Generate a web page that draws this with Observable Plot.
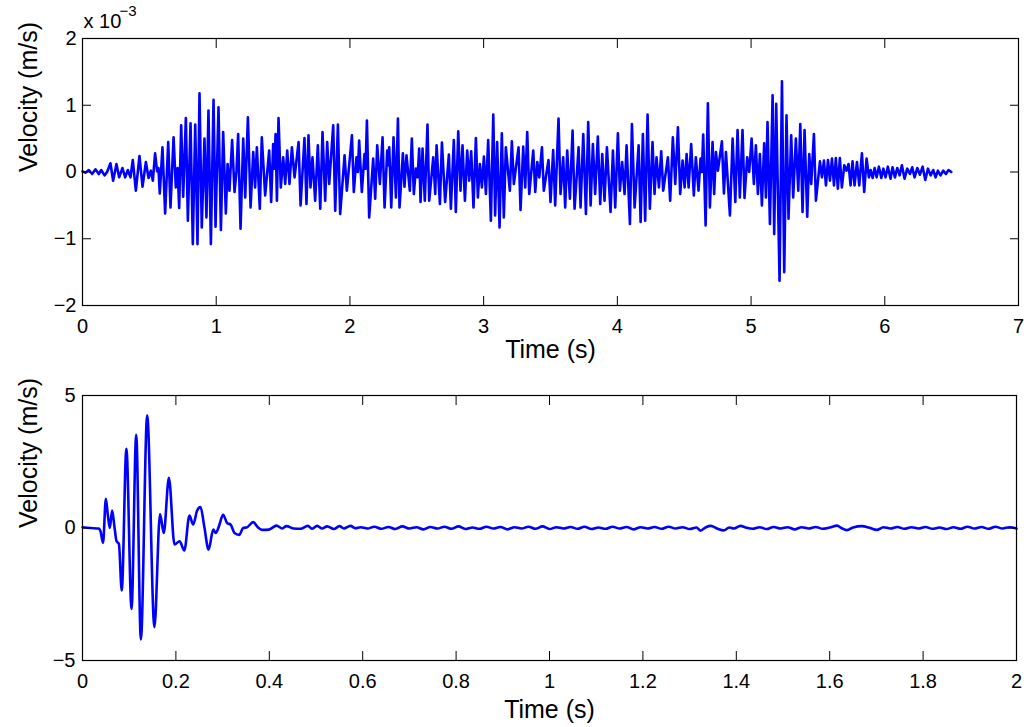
<!DOCTYPE html>
<html>
<head>
<meta charset="utf-8">
<script src="https://cdn.jsdelivr.net/npm/d3@7"></script>
<script src="https://cdn.jsdelivr.net/npm/@observablehq/plot@0.6"></script>
<style>
  html, body { margin: 0; padding: 0; background: #ffffff; }
  #wrap { position: relative; width: 1032px; height: 727px; overflow: hidden; background: #fff; }
  #top, #bottom { position: absolute; left: 0; }
  #top { top: 0; }
  #bottom { top: 375px; }
</style>
</head>
<body>
<div id="wrap"><div id="top"></div><div id="bottom"></div></div>
<script>
// ---------------- Top panel: velocity (x 10^-3 m/s) vs time (s) ----------------
const topTime = [
  0.000,0.022,0.047,0.072,0.097,0.122,0.140,0.165,0.184,0.209,0.229,0.254,0.274,0.299,0.319,0.339,0.359,0.376,0.399,0.426,
  0.449,0.474,0.494,0.511,0.526,0.543,0.558,0.568,0.578,0.598,0.618,0.641,0.658,0.681,0.698,0.711,0.723,0.738,0.753,0.773,
  0.788,0.808,0.825,0.843,0.860,0.875,0.892,0.912,0.927,0.942,0.960,0.980,0.995,1.017,1.035,1.052,1.072,1.085,1.099,1.119,
  1.137,1.152,1.164,1.182,
  1.202,1.217,1.237,1.257,1.277,1.291,1.304,1.326,1.341,1.366,1.396,1.411,1.426,1.436,1.444,1.454,1.466,1.483,1.501,1.516,
  1.531,1.548,1.566,1.586,1.616,1.631,1.660,1.675,1.690,1.705,1.720,1.740,1.760,1.778,1.795,1.815,1.830,1.845,1.875,1.890,1.910,
  1.927,1.960,1.977,2.015,2.029,2.049,2.059,2.069,2.089,2.109,2.117,2.127,2.144,2.174,2.189,2.204,2.224,2.244,2.259,2.279,
  2.286,2.294,2.309,2.326,2.344,2.359,
  2.371,2.396,2.408,2.423,2.448,2.463,2.478,2.493,2.506,2.518,2.528,2.543,2.560,2.580,2.593,2.623,2.638,2.648,2.673,2.688,
  2.712,2.740,2.755,2.777,2.792,2.810,2.827,2.842,2.860,2.877,2.892,2.907,2.924,2.942,2.957,2.972,2.987,3.002,3.017,3.034,
  3.054,3.072,3.086,3.101,3.119,3.136,3.151,3.166,3.196,3.211,3.226,3.261,3.276,3.296,3.311,3.326,3.341,3.371,3.386,3.401,
  3.416,3.436,3.450,3.485,3.500,3.520,3.535,
  3.560,3.575,3.595,3.610,3.625,3.645,3.665,3.680,3.710,3.725,3.745,3.765,3.782,3.800,3.817,3.834,3.854,3.872,3.887,3.904,
  3.922,3.949,3.967,3.984,4.004,4.019,4.036,4.054,4.069,4.094,4.109,4.129,4.159,4.174,4.191,4.208,4.226,4.243,4.263,4.278,
  4.293,4.311,4.328,4.343,4.378,4.395,4.415,4.433,4.453,4.470,4.488,4.503,4.518,4.533,4.552,4.572,4.587,4.607,4.622,4.632,
  4.642,4.660,4.677,4.692,
  4.712,4.724,4.737,4.752,4.782,4.797,4.812,4.842,4.862,4.882,4.899,4.916,4.936,4.951,4.971,4.986,5.004,5.021,5.036,5.051,
  5.066,5.081,5.098,5.111,5.123,5.141,5.161,5.173,5.188,5.213,5.231,5.248,5.265,5.280,5.300,5.315,5.335,5.353,5.368,5.385,
  5.400,5.420,5.435,5.450,5.470,5.485,5.515,5.530,5.545,5.560,5.575,5.590,5.605,5.620,5.634,5.649,5.664,5.679,5.697,5.714,
  5.729,5.744,5.759,5.774,5.792,5.809,5.829,5.846,
  5.864,5.881,5.894,5.909,5.924,5.939,5.956,5.974,5.989,6.006,6.023,6.043,6.058,6.076,6.093,6.111,6.128,6.148,6.168,6.188,
  6.205,6.223,6.243,6.263,6.283,6.303,6.323,6.343,6.362,6.380,6.397,6.417,6.437,6.457,6.477,6.497
];
const topVelocity = [
  0.01,-0.01,0.03,-0.03,0.04,-0.03,0.03,-0.05,0.00,0.13,-0.13,0.12,-0.08,0.06,-0.08,0.03,-0.08,0.18,-0.28,0.24,
  -0.22,0.15,-0.09,0.02,-0.13,0.28,0.01,0.06,-0.32,0.37,-0.62,0.45,-0.53,0.52,-0.23,0.06,-0.54,0.70,-0.37,0.81,
  -0.73,0.73,-1.08,0.71,-1.08,1.18,-0.83,0.50,-0.68,0.92,-1.08,1.08,-0.82,0.97,-0.87,0.60,-0.62,0.12,-0.28,0.48,
  -0.30,0.02,0.57,-0.85,
  0.50,-0.38,0.82,-0.53,0.30,-0.23,0.37,-0.55,0.52,-0.35,0.32,-0.45,0.42,0.05,0.57,-0.43,0.81,-0.23,0.22,-0.18,
  0.32,-0.18,0.37,-0.08,0.45,-0.50,0.51,-0.48,0.55,-0.23,0.22,-0.43,0.40,-0.55,0.60,-0.43,0.45,-0.18,0.70,-0.58,0.71,
  -0.63,0.25,-0.28,0.55,-0.30,0.22,0.00,0.47,-0.30,0.27,0.05,0.77,-0.68,0.20,-0.40,0.40,-0.18,0.52,-0.53,0.32,
  0.10,0.37,-0.53,0.52,-0.38,0.80,
  -0.53,0.28,-0.22,0.25,-0.28,0.50,-0.33,0.05,-0.08,0.35,-0.45,0.35,-0.43,0.71,-0.43,0.22,-0.33,0.40,-0.48,0.44,
  -0.45,0.26,-0.55,0.48,-0.60,0.61,-0.28,0.40,-0.43,0.32,-0.13,0.31,-0.53,0.51,-0.38,0.12,-0.23,0.23,-0.33,0.48,
  -0.73,0.86,-0.65,0.45,-0.83,0.58,-0.68,0.37,-0.28,0.46,-0.18,0.37,-0.57,0.38,-0.23,0.60,-0.33,0.32,-0.30,0.15,
  -0.08,0.37,-0.28,0.18,-0.45,0.33,-0.50,
  0.80,-0.33,0.22,-0.53,0.32,-0.40,0.62,-0.55,0.37,-0.53,0.57,-0.63,0.75,-0.50,0.42,-0.33,0.53,-0.48,0.27,-0.43,
  0.37,-0.60,0.32,-0.53,0.58,-0.28,0.15,-0.33,0.40,-0.78,0.72,-0.53,0.40,-0.75,0.57,-0.73,0.86,-0.55,0.45,-0.33,
  0.22,-0.23,0.31,-0.28,0.22,-0.43,0.52,-0.18,0.67,-0.33,0.17,-0.23,0.27,-0.23,0.42,-0.35,0.22,-0.28,0.20,0.00,
  0.56,-0.80,1.03,-0.53,
  0.45,-0.33,0.30,0.02,0.46,-0.32,0.30,-0.65,0.50,-0.45,0.63,-0.38,0.63,-0.39,0.22,0.00,0.50,-0.18,0.40,-0.33,
  0.27,-0.50,0.43,-0.38,0.75,-0.78,1.15,-0.93,1.02,-1.63,1.36,-1.50,0.85,-0.70,0.55,-0.38,0.50,-0.28,0.72,-0.60,
  0.63,-0.67,0.27,-0.18,0.57,-0.43,0.16,-0.08,0.17,-0.20,0.18,-0.13,0.20,-0.20,0.21,-0.25,0.21,-0.23,0.10,0.02,
  0.12,-0.20,0.16,-0.20,0.15,-0.20,0.28,-0.30,
  0.20,-0.08,0.03,-0.09,0.06,-0.08,0.08,-0.09,0.05,-0.08,0.08,-0.10,0.07,-0.08,0.06,-0.05,0.10,-0.10,0.05,-0.03,
  0.07,-0.08,0.06,-0.04,0.08,-0.12,0.05,-0.05,0.03,-0.08,0.02,-0.05,0.02,-0.03,0.03,0.00
];
const topXTicks = [0, 1, 2, 3, 4, 5, 6, 7];
const topYTicks = [-2, -1, 0, 1, 2];

// ---------------- Bottom panel: velocity (m/s) vs time (s) ----------------
const bottomTime = [
  0.000,0.017,0.035,0.0385,0.044,0.050,0.054,0.0585,0.0635,0.0685,0.073,0.078,0.084,0.094,0.105,0.115,0.125,0.1385,0.154,0.166,
  0.174,0.185,0.197,0.208,0.218,0.229,0.237,0.2455,0.2527,0.261,0.270,0.280,0.2855,0.292,0.301,0.310,0.317,0.3255,0.3355,0.344,
  0.3526,0.3655,0.3754,0.3847,0.399,0.4154,0.4276,0.4368,0.4525,0.4668,0.4825,0.4918,0.5025,0.5132,0.5239,0.5382,0.5503,0.5596,0.5739,0.5846,
  0.5953,0.610,0.625,0.640,0.655,0.670,0.685,0.700,0.715,0.730,0.745,0.760,0.775,0.790,0.805,0.820,0.835,0.850,0.865,0.880,
  0.895,0.910,0.925,0.940,0.955,0.970,0.985,1.000,1.015,1.030,1.045,1.060,1.075,1.090,1.105,1.120,1.135,1.150,1.165,1.180,
  1.195,1.210,1.225,1.240,1.255,1.270,1.285,1.300,1.315,1.323,1.335,1.345,1.360,1.373,1.385,1.395,1.409,1.420,1.435,1.450,
  1.465,1.480,1.495,1.510,1.525,1.540,1.555,1.570,1.585,1.600,1.616,1.625,1.637,1.650,1.669,1.685,1.701,1.715,1.730,1.745,
  1.760,1.775,1.790,1.805,1.820,1.835,1.850,1.865,1.880,1.895,1.910,1.925,1.940,1.955,1.970,1.985,2.000
];
const bottomVelocity = [
  0.03,0.00,-0.02,-0.12,-0.56,1.10,0.53,0.00,0.66,0.03,-0.50,-0.60,-2.36,2.99,-3.05,3.52,-4.21,4.25,-3.74,0.53,
  -0.19,1.89,-0.62,-0.50,-0.85,0.47,0.13,0.66,0.79,0.03,-0.82,-0.06,-0.19,0.06,0.50,0.18,0.13,-0.19,-0.26,0.00,
  0.03,0.22,0.03,-0.07,-0.06,0.09,-0.02,0.07,-0.02,-0.03,0.08,-0.03,0.08,-0.02,0.06,-0.04,0.07,-0.02,0.08,-0.01,
  0.03,-0.02,0.05,-0.03,0.04,-0.04,0.06,-0.02,0.03,-0.05,0.04,-0.02,0.05,-0.03,0.06,-0.04,0.02,-0.03,0.05,-0.02,
  0.04,-0.05,0.03,-0.02,0.05,-0.03,0.06,-0.04,0.03,-0.02,0.04,-0.03,0.05,-0.04,0.02,-0.03,0.05,-0.02,0.04,-0.05,
  0.03,-0.02,0.04,-0.03,0.05,-0.02,0.03,-0.04,0.02,-0.10,0.03,0.08,-0.03,-0.09,0.02,-0.02,0.08,0.02,-0.03,0.03,
  -0.04,0.04,-0.02,0.03,-0.05,0.03,-0.02,0.04,-0.03,0.02,0.09,0.00,-0.08,0.02,0.07,0.01,-0.07,0.03,-0.02,0.04,
  -0.03,0.03,-0.02,0.04,-0.03,0.02,-0.04,0.03,-0.03,0.05,-0.02,0.04,-0.03,0.05,-0.02,0.03,-0.02
];
const bottomXTicks = [0, 0.2, 0.4, 0.6, 0.8, 1, 1.2, 1.4, 1.6, 1.8, 2];
const bottomYTicks = [-5, 0, 5];

const topData = topTime.map((t, i) => ({t, v: topVelocity[i]}));
const bottomData = bottomTime.map((t, i) => ({t, v: bottomVelocity[i]}));

const FONT = "'Liberation Sans', Arial, Helvetica, sans-serif";
const BLUE = "#0000ff";
const blank = () => "";
const fmt = d3.format("~g");

const topPlot = Plot.plot({
  width: 1032, height: 375,
  marginLeft: 82, marginRight: 14, marginTop: 38, marginBottom: 70,
  style: {fontFamily: FONT, fontSize: "20px", background: "#fff", color: "#000", overflow: "visible"},
  x: {domain: [0, 7]},
  y: {domain: [-2, 2]},
  marks: [
    Plot.line(topData, {x: "t", y: "v", stroke: BLUE, strokeWidth: 2.6, strokeLinejoin: "round", curve: "linear"}),
    Plot.frame({stroke: "#000", strokeWidth: 1.2}),
    Plot.axisX(topXTicks, {anchor: "bottom", tickSize: -9, tickPadding: 22, fontSize: 20, tickFormat: fmt, label: null}),
    Plot.axisX(topXTicks, {anchor: "top", tickSize: -9, tickFormat: blank, label: null}),
    Plot.axisY(topYTicks, {anchor: "left", tickSize: -9, tickPadding: 15, fontSize: 20, tickFormat: fmt, label: null}),
    Plot.axisY(topYTicks, {anchor: "right", tickSize: -9, tickFormat: blank, label: null}),
    Plot.text(["Time (s)"], {text: d => d, frameAnchor: "bottom", dy: 52, fontSize: 25}),
    Plot.text(["Velocity (m/s)"], {text: d => d, frameAnchor: "left", dx: -54, rotate: -90, fontSize: 25}),
    Plot.text(["x 10"], {text: d => d, frameAnchor: "top-left", dx: 1, dy: -11, textAnchor: "start", lineAnchor: "bottom", fontSize: 20}),
    Plot.text(["\u22123"], {text: d => d, frameAnchor: "top-left", dx: 37, dy: -23, textAnchor: "start", lineAnchor: "bottom", fontSize: 15})
  ]
});
document.getElementById("top").append(topPlot);

const bottomPlot = Plot.plot({
  width: 1032, height: 352,
  marginLeft: 82, marginRight: 16, marginTop: 20, marginBottom: 67,
  style: {fontFamily: FONT, fontSize: "20px", background: "#fff", color: "#000", overflow: "visible"},
  x: {domain: [0, 2]},
  y: {domain: [-5, 5]},
  marks: [
    Plot.line(bottomData, {x: "t", y: "v", stroke: BLUE, strokeWidth: 2.6, strokeLinejoin: "round", curve: "monotone-x"}),
    Plot.frame({stroke: "#000", strokeWidth: 1.2}),
    Plot.axisX(bottomXTicks, {anchor: "bottom", tickSize: -9, tickPadding: 22, fontSize: 20, tickFormat: fmt, label: null}),
    Plot.axisX(bottomXTicks, {anchor: "top", tickSize: -9, tickFormat: blank, label: null}),
    Plot.axisY(bottomYTicks, {anchor: "left", tickSize: -9, tickPadding: 16, fontSize: 20, tickFormat: fmt, label: null}),
    Plot.axisY(bottomYTicks, {anchor: "right", tickSize: -9, tickFormat: blank, label: null}),
    Plot.text(["Time (s)"], {text: d => d, frameAnchor: "bottom", dy: 57, fontSize: 25}),
    Plot.text(["Velocity (m/s)"], {text: d => d, frameAnchor: "left", dx: -54, rotate: -90, fontSize: 25})
  ]
});
document.getElementById("bottom").append(bottomPlot);
</script>
</body>
</html>
